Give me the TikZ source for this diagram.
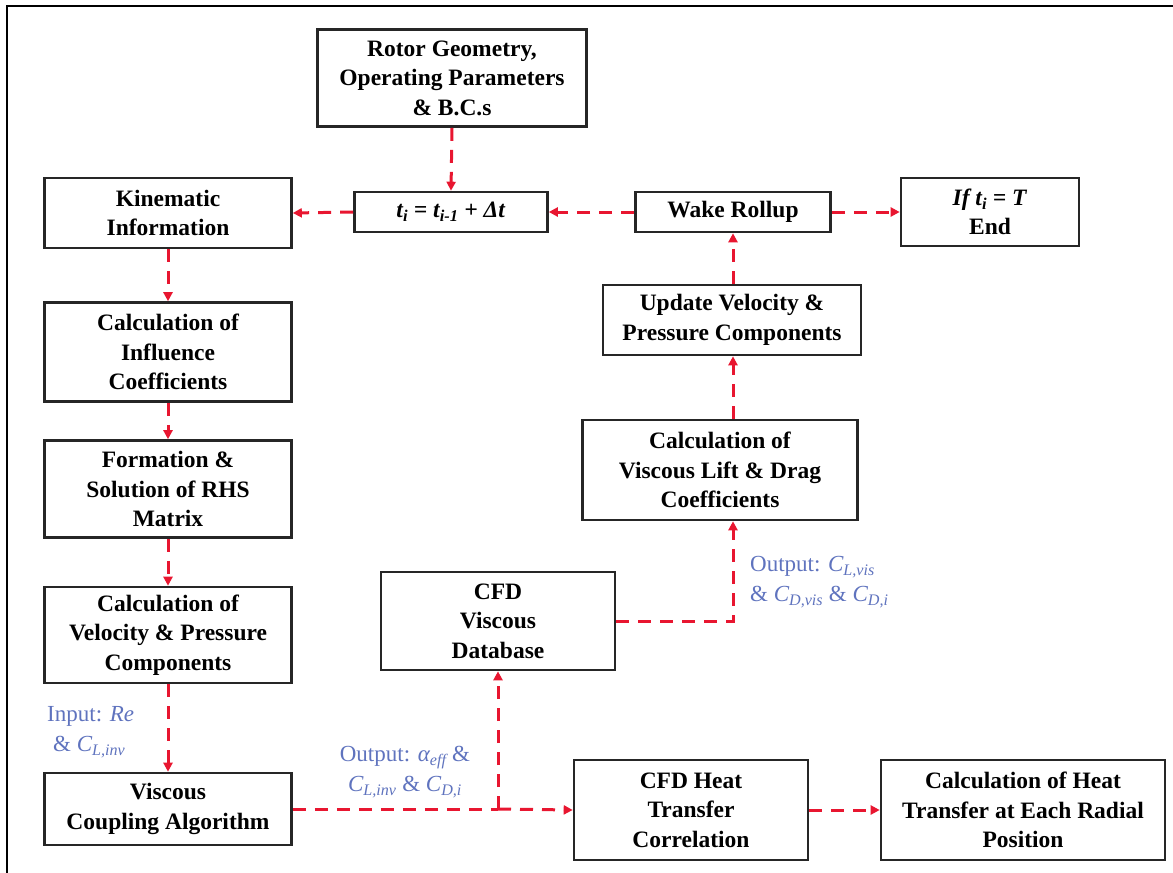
\documentclass[tikz,border=0pt]{standalone}
\usepackage{fontspec}
\setmainfont{Liberation Serif}
\usetikzlibrary{arrows.meta,positioning}
\definecolor{flowred}{RGB}{232,22,48}
\definecolor{notecol}{RGB}{95,115,190}
\tikzset{
  box/.style={draw=black!85, line width=2.6pt, fill=white, align=center,
    inner sep=0pt, font=\fontsize{23.5}{29.5}\selectfont\bfseries},
  flow/.style={draw=flowred, line width=3pt, dash pattern=on 13pt off 9pt,
    -{Triangle[length=9pt,width=9pt]}},
  flowline/.style={draw=flowred, line width=3pt, dash pattern=on 13pt off 9pt},
  note/.style={text=notecol, align=left, inner sep=0pt,
    font=\fontsize{23}{30.5}\selectfont}
}
\newcommand{\sub}[1]{\textsubscript{#1}}
\begin{document}
\begin{tikzpicture}[x=1pt,y=-1pt]
\useasboundingbox (0,0) rectangle (1173,873);
% outer frame
\draw[line width=2.5pt] (7,873) -- (7,6) -- (1173,6);

% boxes
\node[box, minimum width=269pt, minimum height=97pt] (rotor) at (452,78)
  {Rotor Geometry,\\Operating Parameters\\\& B.C.s};
\node[box, minimum width=247pt, minimum height=70pt] (kin) at (168,213)
  {Kinematic\\Information};
\node[box, minimum width=193pt, minimum height=40pt] (time) at (451,212)
  {\textit{t\sub{i} = t\sub{i-1} + Δt}};
\node[box, minimum width=195pt, minimum height=40pt] (wake) at (733,212)
  {Wake Rollup};
\node[box, minimum width=178pt, minimum height=68pt] (endbox) at (990,212)
  {\textit{If t\sub{i} = T}\\End};
\node[box, minimum width=258pt, minimum height=70pt] (upd) at (732,320)
  {Update Velocity \&\\Pressure Components};
\node[box, minimum width=275pt, minimum height=100pt] (lift) at (720,470)
  {Calculation of\\Viscous Lift \& Drag\\Coefficients};
\node[box, minimum width=247pt, minimum height=99pt] (infl) at (168,352)
  {Calculation of\\Influence\\Coefficients};
\node[box, minimum width=247pt, minimum height=97pt] (form) at (168,489)
  {Formation \&\\Solution of RHS\\Matrix};
\node[box, minimum width=247pt, minimum height=96pt] (vel) at (168,635)
  {Calculation of\\Velocity \& Pressure\\Components};
\node[box, minimum width=247pt, minimum height=72pt] (coup) at (168,809)
  {Viscous\\Coupling Algorithm};
\node[box, minimum width=234pt, minimum height=98pt] (db) at (498,621)
  {CFD\\Viscous\\Database};
\node[box, minimum width=234pt, minimum height=100pt] (heat) at (691,810)
  {CFD Heat\\Transfer\\Correlation};
\node[box, minimum width=284pt, minimum height=100pt] (radial) at (1023,810)
  {Calculation of Heat\\Transfer at Each Radial\\Position};

% connectors
\draw[flow] (rotor.south) -- (time.north);
\draw[flow] (time.west) -- (kin.east);
\draw[flow] (wake.west) -- (time.east);
\draw[flow] (wake.east) -- (endbox.west);
\draw[flow] (upd.north -| wake.south) -- (wake.south);
\draw[flow] (lift.north -| wake.south) -- (upd.south -| wake.south);
\draw[flow] (kin.south) -- (infl.north);
\draw[flow] (infl.south) -- (form.north);
\draw[flow] (form.south) -- (vel.north);
\draw[flow] (vel.south) -- (coup.north);

\coordinate (dbturn) at (lift.south -| wake.south);
\draw[flow] (db.east) -- (db.east -| dbturn) -- (dbturn);

\coordinate (split) at (coup.east -| db.south);
\draw[flowline] (coup.east) -- (split);
\draw[flow] (split) -- (db.south);
\draw[flow] (split) -- (heat.west);
\draw[flow] (heat.east) -- (radial.west);

% data notes
\node[note, anchor=west] (nin) at (47,732)
  {Input: \textit{Re}\\\hspace{6pt}\& \textit{C\sub{L,inv}}};
\node[note, anchor=center, align=center] (nout) at (405,772)
  {Output: \textit{α\sub{eff}} \&\\\textit{C\sub{L,inv}} \& \textit{C\sub{D,i}}};
\node[note, anchor=west] (nvis) at (750,582)
  {Output: \textit{C\sub{L,vis}}\\\& \textit{C\sub{D,vis}} \& \textit{C\sub{D,i}}};
\end{tikzpicture}
\end{document}
